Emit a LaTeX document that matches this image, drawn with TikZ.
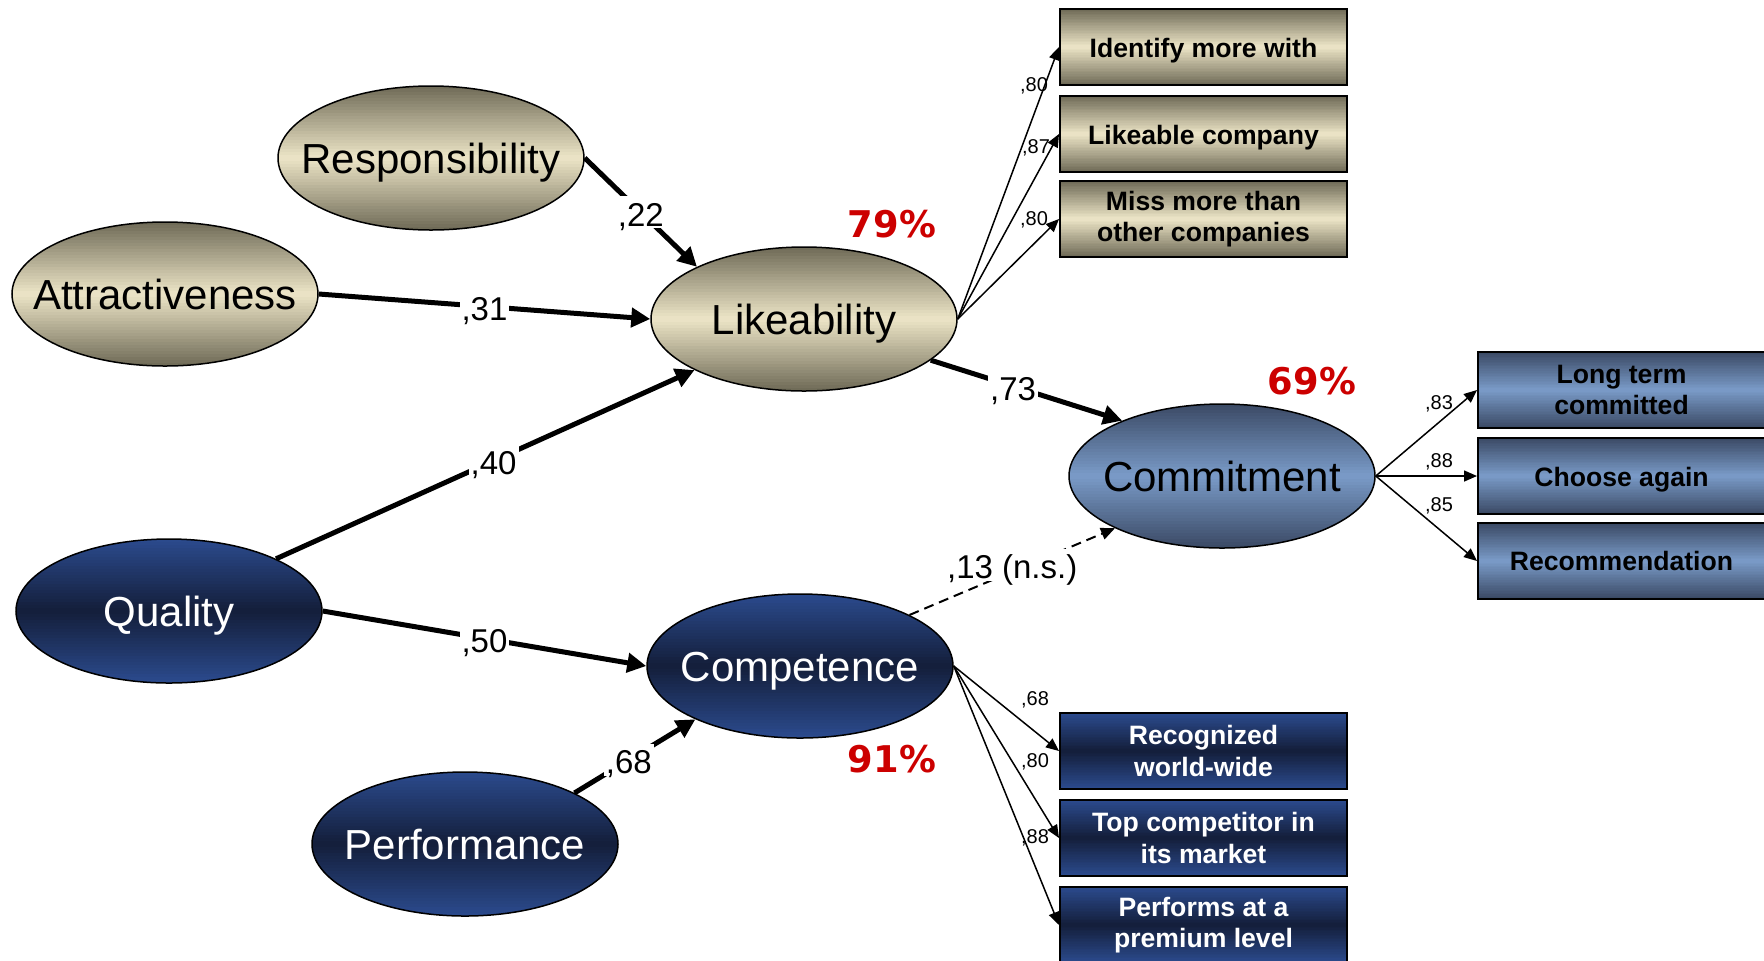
\documentclass[tikz,border=0pt]{standalone}
\usepackage{fontspec}
\setmainfont{Liberation Sans}
\newfontfamily\pctfont{DejaVu Sans}
\usetikzlibrary{shapes.geometric,arrows.meta,calc}

\definecolor{tanD}{HTML}{6E6A56}
\definecolor{tanL}{HTML}{EDE5C7}
\definecolor{navyL}{HTML}{2B4B8E}
\definecolor{navyD}{HTML}{141E3A}
\definecolor{steelD}{HTML}{3A4964}
\definecolor{steelL}{HTML}{7A9BC8}
\definecolor{pctred}{HTML}{CC0000}

\newcommand{\ctext}[1]{\makebox[0pt]{#1}}

\tikzset{
  % vertical gradient drawn as thin bands: #1 at top and bottom edge, #2 in the middle
  vgrad/.style 2 args={path picture={
    \foreach \i in {0,...,47}{
      \pgfmathtruncatemacro{\p}{round(100*abs((\i+0.5)/24-1))}
      \pgfmathsetmacro{\ta}{\i/48}
      \pgfmathsetmacro{\tb}{(\i+1.6)/48}
      \fill[#1!\p!#2]
        ($(path picture bounding box.north west)!\ta!(path picture bounding box.south west)$)
        rectangle
        ($(path picture bounding box.north east)!\tb!(path picture bounding box.south east)$);
    }}},
  latent/.style={ellipse, draw=black, line width=0.75pt,
    minimum width=153pt, minimum height=72pt, inner sep=0pt,
    text height=15pt, text depth=0pt,
    font=\fontsize{21}{24}\selectfont},
  tanfill/.style={vgrad={tanD}{tanL}},
  navyfill/.style={vgrad={navyL}{navyD}, text=white},
  steelfill/.style={vgrad={steelD}{steelL}},
  itembox/.style={rectangle, draw=black, line width=1pt,
    minimum width=143.5pt, minimum height=38pt, inner sep=0pt, align=center,
    font=\bfseries\fontsize{13.3}{15.8}\selectfont},
  lowtext/.style={text height=13pt, text depth=2.8pt},
  patharrow/.style={line width=2.5pt, -{Triangle[length=9.5pt,width=9.5pt]}},
  loadarrow/.style={line width=0.75pt, -{Triangle[length=6.5pt,width=5.5pt]}},
  nsarrow/.style={line width=1pt, dash pattern=on 5pt off 3pt,
    -{Triangle[length=7pt,width=6pt]}},
  coef/.style={fill=white, inner sep=1pt, text height=14pt, text depth=0pt,
    font=\fontsize{16.5}{18}\selectfont},
  loadlbl/.style={inner sep=0pt, font=\fontsize{10}{11}\selectfont},
  pct/.style={text=pctred, font=\pctfont\bfseries\fontsize{18.4}{20}\selectfont}
}

\begin{document}
\begin{tikzpicture}[x=0.5pt,y=-0.5pt]
\useasboundingbox (0,0) rectangle (1764,960);

% latent constructs
\node[latent, tanfill] (resp) at (431,158) {\ctext{Responsibility}};
\node[latent, tanfill] (attr) at (165,294) {\ctext{Attractiveness}};
\node[latent, tanfill] (like) at (804,319) {\ctext{Likeability}};
\node[latent, navyfill] (qual) at (169,611) {\ctext{Quality}};
\node[latent, navyfill] (comp) at (800,666) {\ctext{Competence}};
\node[latent, navyfill] (perf) at (465,844) {\ctext{Performance}};
\node[latent, steelfill] (commit) at (1222,476) {\ctext{Commitment}};

% indicator boxes
\node[itembox, tanfill, lowtext] (t1) at (1203.5,47) {Identify more with};
\node[itembox, tanfill, lowtext] (t2) at (1203.5,134) {Likeable company};
\node[itembox, tanfill] (t3) at (1203.5,219) {Miss more than\\other companies};

\node[itembox, steelfill] (c1) at (1621.5,390) {Long term\\committed};
\node[itembox, steelfill, lowtext] (c2) at (1621.5,476) {Choose again};
\node[itembox, steelfill] (c3) at (1621.5,561) {Recommendation};

\node[itembox, navyfill] (k1) at (1203.5,751) {Recognized\\world-wide};
\node[itembox, navyfill] (k2) at (1203.5,838) {Top competitor in\\its market};
\node[itembox, navyfill] (k3) at (1203.5,925) {Performs at a\\premium level};

% structural paths
\draw[patharrow] (resp.east) -- (like.154) node[coef, pos=.5] (w22) {,22};
\draw[patharrow] (attr.east) -- (like.west) node[coef, pos=.5] (w31) {,31};
\draw[patharrow] (qual.26) -- (like.205) node[coef, pos=.52] (w40) {,40};
\draw[patharrow] (like.342) -- (commit.151) node[coef, pos=.43] (w73) {,73};
\draw[patharrow] (qual.east) -- (comp.west) node[coef, pos=.5] (w50) {,50};
\draw[patharrow] (perf.25) -- (comp.207) node[coef, pos=.45] (w68) {,68};
\draw[nsarrow] (comp.25) -- (commit.206) node[coef, pos=.5, yshift=3.5pt] (w13) {,13 (n.s.)};

% loadings
\draw[loadarrow] (like.east) -- (t1.west);
\draw[loadarrow] (like.east) -- (t2.west);
\draw[loadarrow] (like.east) -- (t3.west);
\draw[loadarrow] (commit.east) -- (c1.west);
\draw[loadarrow] (commit.east) -- (c2.west);
\draw[loadarrow] (commit.east) -- (c3.west);
\draw[loadarrow] (comp.east) -- (k1.west);
\draw[loadarrow] (comp.east) -- (k2.west);
\draw[loadarrow] (comp.east) -- (k3.west);

\node[loadlbl] (l1) at (1034,86) {,80};
\node[loadlbl] (l2) at (1036,148) {,87};
\node[loadlbl] (l3) at (1034,220) {,80};
\node[loadlbl] (l4) at (1439,404) {,83};
\node[loadlbl] (l5) at (1439,462) {,88};
\node[loadlbl] (l6) at (1439,506) {,85};
\node[loadlbl] (l7) at (1035,700) {,68};
\node[loadlbl] (l8) at (1035,762) {,80};
\node[loadlbl] (l9) at (1035,838) {,88};

% explained variance
\node[pct] (r79) at (892,224) {79\%};
\node[pct] (r69) at (1312,381) {69\%};
\node[pct] (r91) at (892,759) {91\%};
\end{tikzpicture}
\end{document}
